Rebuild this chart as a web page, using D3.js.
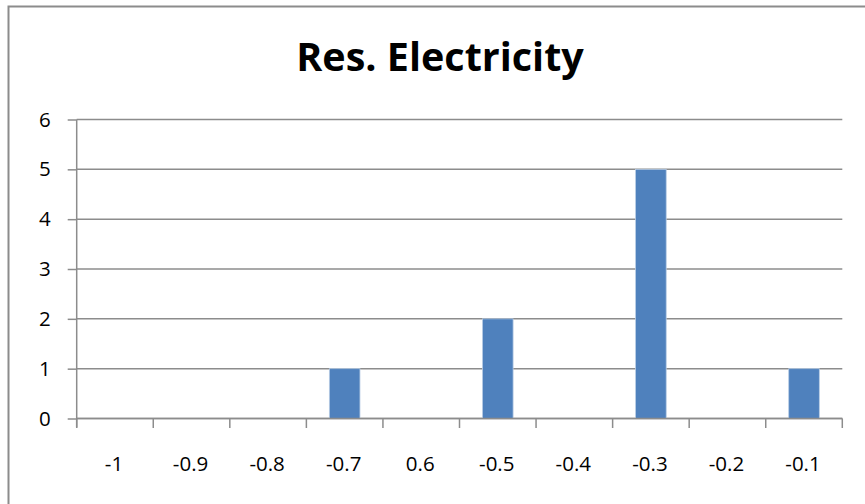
<!DOCTYPE html>
<html>
<head>
<meta charset="utf-8">
<script src="https://cdn.jsdelivr.net/npm/d3@7"></script>
<style>
  html, body { margin: 0; padding: 0; background: #fff; }
  svg { display: block; }
</style>
</head>
<body>
<svg id="chart" width="865" height="504"></svg>
<script>
// Histogram bins and their counts
const categories = ["-1", "-0.9", "-0.8", "-0.7", "0.6", "-0.5", "-0.4", "-0.3", "-0.2", "-0.1"];
const counts = [0, 0, 0, 1, 0, 2, 0, 5, 0, 1];
const yTicks = [0, 1, 2, 3, 4, 5, 6];
const title = "Res. Electricity";

const svg = d3.select("#chart");
const W = 865, H = 504;
const margin = { left: 76.7, right: W - 842.3, top: 119.5, bottom: H - 418.5 };

const font = "'Open Sans', 'Liberation Sans', sans-serif";
const gridColor = "#8c8c8c";
const barColor = "#4f81bd";

// Chart frame
svg.append("rect")
  .attr("x", 8.5).attr("y", 6.5)
  .attr("width", W + 20).attr("height", H + 20)
  .attr("fill", "#fff")
  .attr("stroke", "#8c8c8c").attr("stroke-width", 2);

const band = d3.scaleBand().domain(categories).range([margin.left, W - margin.right]);
const y = d3.scaleLinear().domain([0, 6]).range([H - margin.bottom, margin.top]);
const barWidth = band.bandwidth() * 0.4;

// Horizontal gridlines
svg.append("g")
  .selectAll("line")
  .data(yTicks)
  .join("line")
  .attr("x1", margin.left).attr("x2", W - margin.right)
  .attr("y1", d => y(d)).attr("y2", d => y(d))
  .attr("stroke", gridColor).attr("stroke-width", 1.5);

// Bars
svg.append("g")
  .selectAll("rect")
  .data(categories.map((c, i) => ({ c, v: counts[i] })).filter(d => d.v > 0))
  .join("rect")
  .attr("x", d => band(d.c) + band.bandwidth() / 2 - barWidth / 2)
  .attr("width", barWidth)
  .attr("y", d => y(d.v))
  .attr("height", d => y(0) - y(d.v))
  .attr("fill", barColor)
  .attr("stroke", "#b9cde5").attr("stroke-width", 0.8);

// Y axis
const yAxis = d3.axisLeft(y).tickValues(yTicks).tickSize(9).tickPadding(17).tickFormat(d3.format("d"));
const gy = svg.append("g")
  .attr("transform", `translate(${margin.left},0)`)
  .call(yAxis);
gy.select(".domain").attr("stroke", gridColor).attr("stroke-width", 1.5)
  .attr("d", `M0,${y(6)}V${y(0) + 9}`);
gy.selectAll(".tick line").attr("stroke", gridColor).attr("stroke-width", 1.5);
gy.selectAll(".tick text").attr("font-family", font).attr("font-size", 20.5).attr("fill", "#000");

// X axis with ticks at band boundaries
const xAxisG = svg.append("g").attr("transform", `translate(0,${y(0)})`);
xAxisG.append("line")
  .attr("x1", margin.left).attr("x2", W - margin.right)
  .attr("y1", 0).attr("y2", 0)
  .attr("stroke", gridColor).attr("stroke-width", 1.5);
const boundaries = categories.map(c => band(c)).concat([W - margin.right]);
xAxisG.selectAll("line.tk")
  .data(boundaries)
  .join("line")
  .attr("class", "tk")
  .attr("x1", d => d).attr("x2", d => d)
  .attr("y1", 0).attr("y2", 9.5)
  .attr("stroke", gridColor).attr("stroke-width", 1.5);
xAxisG.selectAll("text")
  .data(categories)
  .join("text")
  .attr("x", d => band(d) + band.bandwidth() / 2 - 1)
  .attr("y", 52.5)
  .attr("text-anchor", "middle")
  .attr("font-family", font).attr("font-size", 20.5).attr("fill", "#000")
  .text(d => d);

// Title
svg.append("text")
  .attr("x", 440).attr("y", 70.5)
  .attr("text-anchor", "middle")
  .attr("font-family", font).attr("font-weight", "bold").attr("font-size", 39.5)
  .attr("fill", "#000")
  .text(title);
</script>
</body>
</html>
